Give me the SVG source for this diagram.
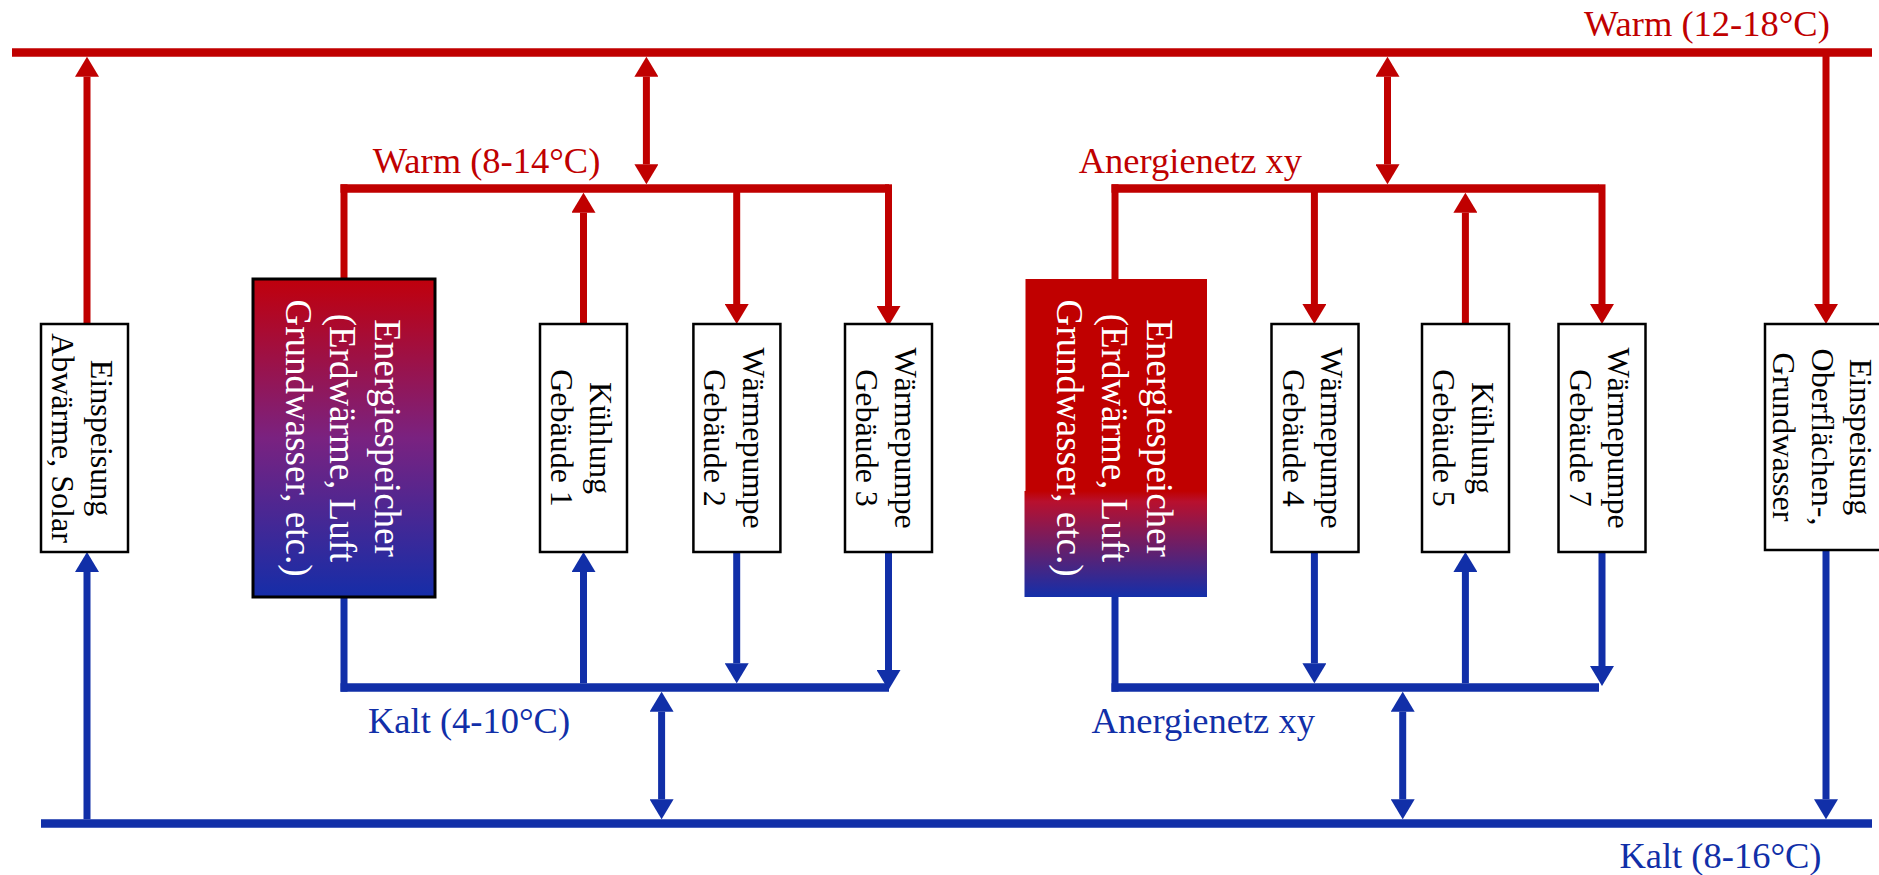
<svg xmlns="http://www.w3.org/2000/svg" width="1879" height="875" viewBox="0 0 1879 875">
<defs>
<style>
.r{stroke:#C00000;fill:none}
.b{stroke:#112FA8;fill:none}
.bus{stroke-width:8.5}
.v{stroke-width:7}
.box{fill:#fff;stroke:#000;stroke-width:2.5}
.bt{font-family:"Liberation Serif","Times New Roman",serif;font-size:32px;fill:#000;text-anchor:middle}
.et{font-family:"Liberation Serif","Times New Roman",serif;font-size:37px;fill:#fff;text-anchor:middle}
.lbl{font-family:"Liberation Serif","Times New Roman",serif;font-size:36.5px}
</style>
<marker id="ar" markerUnits="userSpaceOnUse" markerWidth="20" markerHeight="24" refX="0" refY="12" orient="auto-start-reverse" viewBox="0 0 20 24"><path d="M0,0 L20,12 L0,24 z" fill="#C00000"/></marker>
<marker id="ab" markerUnits="userSpaceOnUse" markerWidth="20" markerHeight="24" refX="0" refY="12" orient="auto-start-reverse" viewBox="0 0 20 24"><path d="M0,0 L20,12 L0,24 z" fill="#112FA8"/></marker>
<linearGradient id="g1" x1="0" y1="0" x2="0" y2="1">
<stop offset="0" stop-color="#C0000C"/>
<stop offset="0.5" stop-color="#7A2280"/>
<stop offset="1" stop-color="#152DA8"/>
</linearGradient>
<linearGradient id="g2" x1="0" y1="0" x2="0" y2="1">
<stop offset="0" stop-color="#C00000"/>
<stop offset="0.1" stop-color="#B8102E"/>
<stop offset="1" stop-color="#132FAA"/>
</linearGradient>
</defs>
<rect width="1879" height="875" fill="#fff"/>

<g id="connectors">
<!-- red -->
<line class="r bus" x1="12" y1="52.5" x2="1872" y2="52.5"/>
<line class="r v" x1="87" y1="324" x2="87" y2="76.7" marker-end="url(#ar)"/>
<line class="r v" x1="646.4" y1="76.7" x2="646.4" y2="164.3" marker-start="url(#ar)" marker-end="url(#ar)"/>
<line class="r bus" x1="340.5" y1="188.5" x2="889" y2="188.5"/>
<line class="r v" x1="344" y1="184.3" x2="344" y2="279"/>
<line class="r v" x1="583.5" y1="324" x2="583.5" y2="212.7" marker-end="url(#ar)"/>
<line class="r v" x1="736.7" y1="192" x2="736.7" y2="304" marker-end="url(#ar)"/>
<line class="r v" x1="888.5" y1="184.3" x2="888.5" y2="306" marker-end="url(#ar)"/>
<line class="r bus" x1="1111.5" y1="188.5" x2="1599" y2="188.5"/>
<line class="r v" x1="1115" y1="184.3" x2="1115" y2="279"/>
<line class="r v" x1="1387.5" y1="76.7" x2="1387.5" y2="164.3" marker-start="url(#ar)" marker-end="url(#ar)"/>
<line class="r v" x1="1314.4" y1="192" x2="1314.4" y2="304" marker-end="url(#ar)"/>
<line class="r v" x1="1465.4" y1="324" x2="1465.4" y2="212.7" marker-end="url(#ar)"/>
<line class="r v" x1="1602" y1="184.3" x2="1602" y2="304" marker-end="url(#ar)"/>
<line class="r v" x1="1826" y1="56" x2="1826" y2="304" marker-end="url(#ar)"/>
<!-- blue -->
<line class="b bus" x1="41" y1="823.5" x2="1872" y2="823.5"/>
<line class="b v" x1="87" y1="819.3" x2="87" y2="572" marker-end="url(#ab)"/>
<line class="b bus" x1="340.5" y1="687.5" x2="889" y2="687.5"/>
<line class="b v" x1="344" y1="597" x2="344" y2="691.7"/>
<line class="b v" x1="583.5" y1="683.3" x2="583.5" y2="572" marker-end="url(#ab)"/>
<line class="b v" x1="736.7" y1="552" x2="736.7" y2="663.3" marker-end="url(#ab)"/>
<line class="b v" x1="888.5" y1="552" x2="888.5" y2="670" marker-end="url(#ab)"/>
<line class="b v" x1="661.6" y1="711.7" x2="661.6" y2="799.3" marker-start="url(#ab)" marker-end="url(#ab)"/>
<line class="b bus" x1="1111.5" y1="687.5" x2="1599" y2="687.5"/>
<line class="b v" x1="1115" y1="597" x2="1115" y2="691.7"/>
<line class="b v" x1="1314.4" y1="552" x2="1314.4" y2="663.3" marker-end="url(#ab)"/>
<line class="b v" x1="1465.4" y1="683.3" x2="1465.4" y2="572" marker-end="url(#ab)"/>
<line class="b v" x1="1602" y1="552" x2="1602" y2="666" marker-end="url(#ab)"/>
<line class="b v" x1="1402.7" y1="711.7" x2="1402.7" y2="799.3" marker-start="url(#ab)" marker-end="url(#ab)"/>
<line class="b v" x1="1826" y1="550" x2="1826" y2="799.3" marker-end="url(#ab)"/>
</g>

<g id="labels">
<text class="lbl" x="1584" y="36" fill="#C00000">Warm (12-18°C)</text>
<text class="lbl" x="372.8" y="173" fill="#C00000">Warm (8-14°C)</text>
<text class="lbl" x="1078.7" y="172.7" fill="#C00000">Anergienetz xy</text>
<text class="lbl" x="368" y="733.3" fill="#112FA8">Kalt (4-10°C)</text>
<text class="lbl" x="1091.6" y="732.7" fill="#112FA8">Anergienetz xy</text>
<text class="lbl" x="1619.4" y="868.3" fill="#112FA8">Kalt (8-16°C)</text>
</g>

<g id="n_einspeisung1">
<rect class="box" x="41" y="324" width="87" height="228"/>
<text class="bt" transform="translate(84.5,438) rotate(90)"><tspan x="0" y="-6">Einspeisung</tspan><tspan x="0" y="32.5">Abwärme, Solar</tspan></text>
</g>
<g id="n_energiespeicher1">
<rect x="253" y="279" width="182" height="318" fill="url(#g1)" stroke="#000" stroke-width="3"/>
<text class="et" transform="translate(344,438) rotate(90)"><tspan x="0" y="-31">Energiespeicher</tspan><tspan x="0" y="14">(Erdwärme, Luft</tspan><tspan x="0" y="58.5">Grundwasser, etc.)</tspan></text>
</g>
<g id="n_kuehlung1">
<rect class="box" x="540" y="324" width="87" height="228"/>
<text class="bt" transform="translate(583.5,438) rotate(90)"><tspan x="0" y="-6">Kühlung</tspan><tspan x="0" y="32.5">Gebäude 1</tspan></text>
</g>
<g id="n_wp2">
<rect class="box" x="693.4" y="324" width="87" height="228"/>
<text class="bt" transform="translate(736.9,438) rotate(90)"><tspan x="0" y="-6">Wärmepumpe</tspan><tspan x="0" y="32.5">Gebäude 2</tspan></text>
</g>
<g id="n_wp3">
<rect class="box" x="845" y="324" width="87" height="228"/>
<text class="bt" transform="translate(888.5,438) rotate(90)"><tspan x="0" y="-6">Wärmepumpe</tspan><tspan x="0" y="32.5">Gebäude 3</tspan></text>
</g>
<g id="n_energiespeicher2">
<rect x="1025.5" y="279" width="181.5" height="213" fill="#C00000"/>
<rect x="1024.5" y="491" width="182.5" height="106" fill="url(#g2)"/>
<text class="et" transform="translate(1115.7,438) rotate(90)"><tspan x="0" y="-31">Energiespeicher</tspan><tspan x="0" y="14">(Erdwärme, Luft</tspan><tspan x="0" y="58.5">Grundwasser, etc.)</tspan></text>
</g>
<g id="n_wp4">
<rect class="box" x="1271.5" y="324" width="87" height="228"/>
<text class="bt" transform="translate(1315,438) rotate(90)"><tspan x="0" y="-6">Wärmepumpe</tspan><tspan x="0" y="32.5">Gebäude 4</tspan></text>
</g>
<g id="n_kuehlung5">
<rect class="box" x="1422" y="324" width="87" height="228"/>
<text class="bt" transform="translate(1465.5,438) rotate(90)"><tspan x="0" y="-6">Kühlung</tspan><tspan x="0" y="32.5">Gebäude 5</tspan></text>
</g>
<g id="n_wp7">
<rect class="box" x="1558.5" y="324" width="87" height="228"/>
<text class="bt" transform="translate(1602,438) rotate(90)"><tspan x="0" y="-6">Wärmepumpe</tspan><tspan x="0" y="32.5">Gebäude 7</tspan></text>
</g>
<g id="n_einspeisung2">
<rect class="box" x="1765" y="324" width="122" height="226"/>
<text class="bt" transform="translate(1826,437) rotate(90)"><tspan x="0" y="-24">Einspeisung</tspan><tspan x="0" y="14.3">Oberflächen-,</tspan><tspan x="0" y="53">Grundwasser</tspan></text>
</g>
</svg>
